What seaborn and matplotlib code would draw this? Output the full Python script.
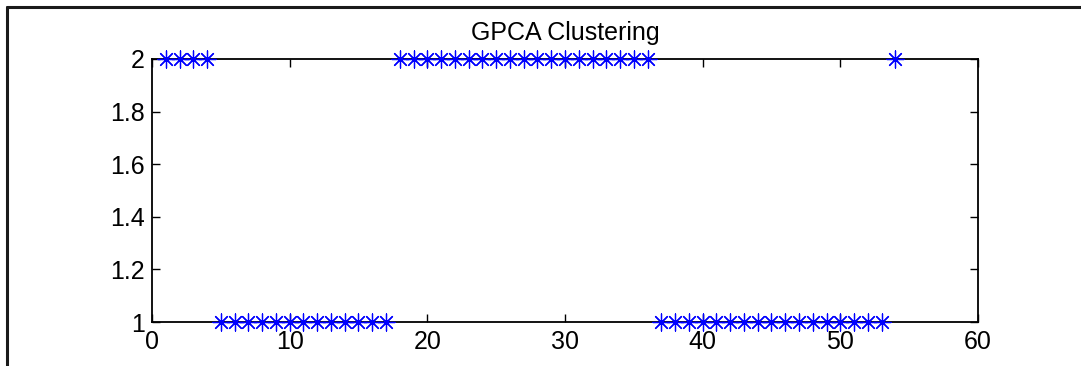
import matplotlib
matplotlib.use("Agg")
import matplotlib.pyplot as plt
from matplotlib.lines import Line2D
import seaborn as sns
import pandas as pd

# Cluster assignment of each sample (GPCA segmentation result)
sample_index = list(range(1, 55))
cluster_label = [
    2, 2, 2, 2,
    1, 1, 1, 1, 1, 1, 1, 1, 1, 1, 1, 1, 1,
    2, 2, 2, 2, 2, 2, 2, 2, 2, 2, 2, 2, 2, 2, 2, 2, 2, 2, 2,
    1, 1, 1, 1, 1, 1, 1, 1, 1, 1, 1, 1, 1, 1, 1, 1, 1,
    2,
]
x_ticks = [0, 10, 20, 30, 40, 50, 60]
y_ticks = [1, 1.2, 1.4, 1.6, 1.8, 2]
y_tick_labels = ["1", "1.2", "1.4", "1.6", "1.8", "2"]
title = "GPCA Clustering"

df = pd.DataFrame({"sample": sample_index, "cluster": cluster_label})

sns.set_style("white")
plt.rcParams["font.family"] = ["Liberation Sans", "DejaVu Sans"]

fig = plt.figure(figsize=(10.81, 3.66), dpi=100)
ax = fig.add_axes([0.1406, 0.1202, 0.7641, 0.7186])

sns.scatterplot(
    data=df, x="sample", y="cluster", ax=ax,
    marker=(8, 2, 0), s=150, color="#0000ff", edgecolor="#0000ff",
    linewidth=0.9, clip_on=False, zorder=3, legend=False,
)

ax.set_xlim(0, 60)
ax.set_ylim(1, 2)
ax.set_xticks(x_ticks)
ax.set_xticklabels([str(t) for t in x_ticks])
ax.set_yticks(y_ticks)
ax.set_yticklabels(y_tick_labels)
ax.set_xlabel("")
ax.set_ylabel("")
ax.set_title(title, fontsize=18, pad=14, color="black")

for side in ["top", "bottom", "left", "right"]:
    ax.spines[side].set_visible(True)
    ax.spines[side].set_color("black")
    ax.spines[side].set_linewidth(1.3)

ax.tick_params(axis="both", direction="in", length=6, width=1.0,
               labelsize=18, colors="black",
               top=True, right=True, bottom=True, left=True)
ax.tick_params(axis="x", pad=6)
ax.tick_params(axis="y", pad=5)

# Outer frame of the figure window (top and left edges)
W, H = 1081, 366
fig.add_artist(Line2D([7 / W, 1.0], [1 - 7 / H, 1 - 7 / H],
                      transform=fig.transFigure, color="#1a1a1a", linewidth=2.2))
fig.add_artist(Line2D([7 / W, 7 / W], [0.0, 1 - 7 / H],
                      transform=fig.transFigure, color="#1a1a1a", linewidth=2.2))

fig.savefig("out.png", dpi=100, facecolor="white")
